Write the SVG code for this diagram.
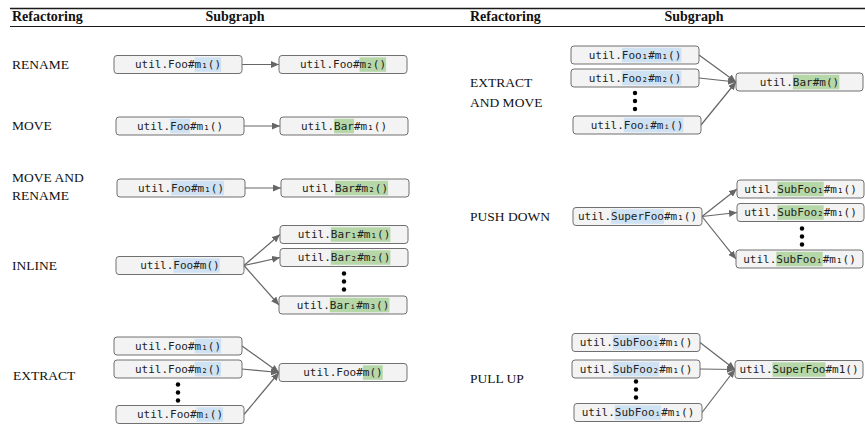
<svg xmlns="http://www.w3.org/2000/svg" width="865" height="424" viewBox="0 0 865 424">
  <defs>
    <style>
      .rule { stroke: #1a1a1a; fill: none; }
      .hdr { font-family: "Liberation Serif", "Times New Roman", serif; font-weight: bold; font-size: 14px; fill: #111; }
      .lbl { font-family: "Liberation Serif", "Times New Roman", serif; font-size: 13.5px; fill: #111; }
      .box { fill: #f3f3f3; stroke: #707070; stroke-width: 1; }
      .hb { fill: #cfe2f3; }
      .hg { fill: #b6d7a8; }
      .t { font-family: "DejaVu Sans Mono", "Liberation Mono", monospace; font-size: 11px; fill: #222; text-anchor: middle; }
      .edge { stroke: #666; stroke-width: 1.2; fill: none; marker-end: url(#arr); }
      .dot { fill: #000; }
    </style>
    <marker id="arr" markerUnits="userSpaceOnUse" markerWidth="8" markerHeight="7" refX="8" refY="3.5" orient="auto">
      <path d="M0,0 L8,3.5 L0,7 z" fill="#666"/>
    </marker>
  </defs>

  <!-- table rules and headers -->
  <g id="table-head">
    <line class="rule" x1="10" y1="8.5" x2="865" y2="8.5" stroke-width="1.5"/>
    <line class="rule" x1="10" y1="26.5" x2="865" y2="26.5" stroke-width="1.2"/>
    <text class="hdr" x="12" y="21">Refactoring</text>
    <text class="hdr" x="235" y="21" text-anchor="middle">Subgraph</text>
    <text class="hdr" x="470" y="21">Refactoring</text>
    <text class="hdr" x="694" y="21" text-anchor="middle">Subgraph</text>
  </g>

  <!-- row labels -->
  <g id="labels">
    <text class="lbl" x="12" y="69">RENAME</text>
    <text class="lbl" x="12" y="130">MOVE</text>
    <text class="lbl" x="12" y="182">MOVE AND</text>
    <text class="lbl" x="12" y="200">RENAME</text>
    <text class="lbl" x="12" y="270">INLINE</text>
    <text class="lbl" x="13" y="380">EXTRACT</text>
    <text class="lbl" x="470" y="87">EXTRACT</text>
    <text class="lbl" x="470" y="107">AND MOVE</text>
    <text class="lbl" x="470" y="221">PUSH DOWN</text>
    <text class="lbl" x="470" y="383">PULL UP</text>
  </g>

  <!-- connectors -->
  <g id="connectors">
    <line class="edge" x1="242" y1="64.5" x2="279" y2="64.5"/>
    <line class="edge" x1="244" y1="126" x2="280" y2="126"/>
    <line class="edge" x1="245" y1="188" x2="281" y2="188"/>
    <line class="edge" x1="244" y1="265.5" x2="280" y2="234.5"/>
    <line class="edge" x1="244" y1="265.5" x2="280" y2="257.5"/>
    <line class="edge" x1="244" y1="265.5" x2="279" y2="305"/>
    <line class="edge" x1="242" y1="346" x2="279" y2="372.5"/>
    <line class="edge" x1="242" y1="369" x2="279" y2="372.5"/>
    <line class="edge" x1="244" y1="414.5" x2="279" y2="372.5"/>
    <line class="edge" x1="699" y1="55" x2="736" y2="82"/>
    <line class="edge" x1="699" y1="78" x2="736" y2="82"/>
    <line class="edge" x1="701" y1="125" x2="736" y2="82"/>
    <line class="edge" x1="702" y1="216.5" x2="737" y2="189"/>
    <line class="edge" x1="702" y1="216.5" x2="737" y2="212.5"/>
    <line class="edge" x1="702" y1="216.5" x2="736" y2="259"/>
    <line class="edge" x1="700" y1="342.5" x2="735" y2="369.5"/>
    <line class="edge" x1="700" y1="369" x2="735" y2="369.5"/>
    <line class="edge" x1="702" y1="412.5" x2="735" y2="369.5"/>
  </g>

  <!-- RENAME -->
  <g id="rename-src"><rect class="box" x="114" y="55.5" width="128" height="18" rx="3"/><rect class="hb" x="194.6" y="57.3" width="26.5" height="14.5"/><text class="t" x="178" y="68.3">util.Foo#m₁()</text></g>
  <g id="rename-dst"><rect class="box" x="279" y="55.5" width="128" height="18" rx="3"/><rect class="hg" x="359.6" y="57.3" width="26.5" height="14.5"/><text class="t" x="343" y="68.3">util.Foo#m₂()</text></g>

  <!-- MOVE -->
  <g id="move-src"><rect class="box" x="116" y="117" width="128" height="18" rx="3"/><rect class="hb" x="170.1" y="118.8" width="19.9" height="14.5"/><text class="t" x="180" y="129.8">util.Foo#m₁()</text></g>
  <g id="move-dst"><rect class="box" x="280" y="117" width="128" height="18" rx="3"/><rect class="hg" x="334.1" y="118.8" width="19.9" height="14.5"/><text class="t" x="344" y="129.8">util.Bar#m₁()</text></g>

  <!-- MOVE AND RENAME -->
  <g id="mr-src"><rect class="box" x="117" y="179" width="128" height="18" rx="3"/><rect class="hb" x="171.1" y="180.8" width="53" height="14.5"/><text class="t" x="181" y="191.8">util.Foo#m₁()</text></g>
  <g id="mr-dst"><rect class="box" x="281" y="179" width="128" height="18" rx="3"/><rect class="hg" x="335.1" y="180.8" width="53" height="14.5"/><text class="t" x="345" y="191.8">util.Bar#m₂()</text></g>

  <!-- INLINE -->
  <g id="inline-src"><rect class="box" x="116" y="256.5" width="128" height="18" rx="3"/><rect class="hb" x="173.4" y="258.3" width="46.4" height="14.5"/><text class="t" x="180" y="269.3">util.Foo#m()</text></g>
  <g id="inline-bar1"><rect class="box" x="280" y="225.5" width="128" height="18" rx="3"/><rect class="hg" x="330.8" y="227.3" width="59.6" height="14.5"/><text class="t" x="344" y="238.3">util.Bar₁#m₁()</text></g>
  <g id="inline-bar2"><rect class="box" x="280" y="248.5" width="128" height="18" rx="3"/><rect class="hg" x="330.8" y="250.3" width="59.6" height="14.5"/><text class="t" x="344" y="261.3">util.Bar₂#m₂()</text></g>
  <g id="inline-dots"><circle class="dot" cx="344" cy="273.5" r="2.2"/><circle class="dot" cx="344" cy="281.5" r="2.2"/><circle class="dot" cx="344" cy="289.5" r="2.2"/></g>
  <g id="inline-bari"><rect class="box" x="279" y="296" width="128" height="18" rx="3"/><rect class="hg" x="329.8" y="297.8" width="59.6" height="14.5"/><text class="t" x="343" y="308.8">util.Barᵢ#m₃()</text></g>

  <!-- EXTRACT -->
  <g id="extract-m1"><rect class="box" x="114" y="337" width="128" height="18" rx="3"/><rect class="hb" x="194.6" y="338.8" width="26.5" height="14.5"/><text class="t" x="178" y="349.8">util.Foo#m₁()</text></g>
  <g id="extract-m2"><rect class="box" x="114" y="360" width="128" height="18" rx="3"/><rect class="hb" x="194.6" y="361.8" width="26.5" height="14.5"/><text class="t" x="178" y="372.8">util.Foo#m₂()</text></g>
  <g id="extract-dots"><circle class="dot" cx="178" cy="384.5" r="2.2"/><circle class="dot" cx="178" cy="392.5" r="2.2"/><circle class="dot" cx="178" cy="400.5" r="2.2"/></g>
  <g id="extract-mi"><rect class="box" x="116" y="405.5" width="128" height="18" rx="3"/><rect class="hb" x="196.6" y="407.3" width="26.5" height="14.5"/><text class="t" x="180" y="418.3">util.Foo#mᵢ()</text></g>
  <g id="extract-dst"><rect class="box" x="279" y="363.5" width="128" height="18" rx="3"/><rect class="hg" x="362.9" y="365.3" width="19.9" height="14.5"/><text class="t" x="343" y="376.3">util.Foo#m()</text></g>

  <!-- EXTRACT AND MOVE -->
  <g id="eam-foo1"><rect class="box" x="571" y="46" width="128" height="18" rx="3"/><rect class="hb" x="621.8" y="47.8" width="59.6" height="14.5"/><text class="t" x="635" y="58.8">util.Foo₁#m₁()</text></g>
  <g id="eam-foo2"><rect class="box" x="571" y="69" width="128" height="18" rx="3"/><rect class="hb" x="621.8" y="70.8" width="59.6" height="14.5"/><text class="t" x="635" y="81.8">util.Foo₂#m₂()</text></g>
  <g id="eam-dots"><circle class="dot" cx="635" cy="93" r="2.2"/><circle class="dot" cx="635" cy="101" r="2.2"/><circle class="dot" cx="635" cy="109" r="2.2"/></g>
  <g id="eam-fooi"><rect class="box" x="573" y="116" width="128" height="18" rx="3"/><rect class="hb" x="623.8" y="117.8" width="59.6" height="14.5"/><text class="t" x="637" y="128.8">util.Fooᵢ#mᵢ()</text></g>
  <g id="eam-dst"><rect class="box" x="736" y="73" width="127" height="18" rx="3"/><rect class="hg" x="792.9" y="74.8" width="46.4" height="14.5"/><text class="t" x="799.5" y="85.8">util.Bar#m()</text></g>

  <!-- PUSH DOWN -->
  <g id="push-src"><rect class="box" x="573" y="207.5" width="129" height="18" rx="3"/><rect class="hb" x="611" y="209.3" width="53" height="14.5"/><text class="t" x="637.5" y="220.3">util.SuperFoo#m₁()</text></g>
  <g id="push-sub1"><rect class="box" x="737" y="180" width="127" height="18" rx="3"/><rect class="hg" x="777.3" y="181.8" width="46.4" height="14.5"/><text class="t" x="800.5" y="192.8">util.SubFoo₁#m₁()</text></g>
  <g id="push-sub2"><rect class="box" x="737" y="203.5" width="127" height="18" rx="3"/><rect class="hg" x="777.3" y="205.3" width="46.4" height="14.5"/><text class="t" x="800.5" y="216.3">util.SubFoo₂#m₁()</text></g>
  <g id="push-dots"><circle class="dot" cx="802" cy="228.5" r="2.2"/><circle class="dot" cx="802" cy="236.5" r="2.2"/><circle class="dot" cx="802" cy="244.5" r="2.2"/></g>
  <g id="push-subi"><rect class="box" x="736" y="250" width="127" height="18" rx="3"/><rect class="hg" x="776.3" y="251.8" width="46.4" height="14.5"/><text class="t" x="799.5" y="262.8">util.SubFooᵢ#m₁()</text></g>

  <!-- PULL UP -->
  <g id="pull-sub1"><rect class="box" x="572" y="333.5" width="128" height="18" rx="3"/><rect class="hb" x="612.8" y="335.3" width="46.4" height="14.5"/><text class="t" x="636" y="346.3">util.SubFoo₁#m₁()</text></g>
  <g id="pull-sub2"><rect class="box" x="572" y="360" width="128" height="18" rx="3"/><rect class="hb" x="612.8" y="361.8" width="46.4" height="14.5"/><text class="t" x="636" y="372.8">util.SubFoo₂#m₁()</text></g>
  <g id="pull-dots"><circle class="dot" cx="636" cy="381.5" r="2.2"/><circle class="dot" cx="636" cy="389.5" r="2.2"/><circle class="dot" cx="636" cy="397.5" r="2.2"/></g>
  <g id="pull-subi"><rect class="box" x="574" y="403.5" width="128" height="18" rx="3"/><rect class="hb" x="614.8" y="405.3" width="46.4" height="14.5"/><text class="t" x="638" y="416.3">util.SubFooᵢ#m₁()</text></g>
  <g id="pull-dst"><rect class="box" x="735" y="360.5" width="128" height="18" rx="3"/><rect class="hg" x="772.5" y="362.3" width="53" height="14.5"/><text class="t" x="799" y="373.3">util.SuperFoo#m1()</text></g>
</svg>
